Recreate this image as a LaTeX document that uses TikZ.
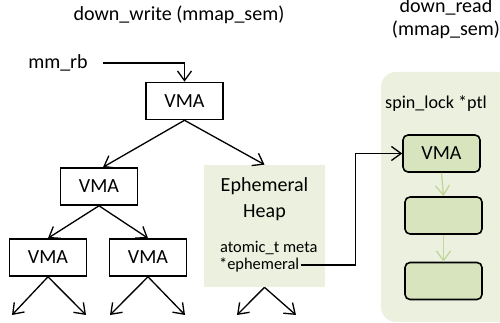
\documentclass[tikz,border=0pt]{standalone}
\usepackage{fontspec}
\setmainfont{Carlito}
\usepackage{tikz}
\usetikzlibrary{arrows.meta}
\usetikzlibrary{positioning}

\definecolor{panelgreen}{HTML}{EBF1DE}
\definecolor{boxgreen}{HTML}{D7E4BD}
\definecolor{arrowgreen}{HTML}{C3D69B}

\begin{document}
\begin{tikzpicture}[x=0.02cm, y=-0.02cm,
        >={Straight Barb[length=5.5pt,width=8pt]},
        every node/.style={font=\fontsize{11.4}{13.1}\selectfont},
        vma/.style={draw, line width=0.9pt, minimum width=1.54cm, minimum height=0.74cm, inner sep=0pt},
        vmalist/.style={vma, rounded corners=0.1cm, fill=boxgreen},
        link/.style={->, line width=0.75pt}]
        \useasboundingbox (0,0) rectangle (500,323);

        % Right panel
        \fill[panelgreen, rounded corners=0.3cm] (381,72) rectangle (530,322);

        % Titles
        \node (wtitle) at (179,15) {down\_write (mmap\_sem)};
        \node[align=center] (rtitle) at (446,19) {down\_read\\(mmap\_sem)};

        % Tree
        \node (mmrb) at (58,63) {mm\_rb};
        \node[vma] (vma0) at (184.5,101) {VMA};
        \node[vma] (vma1) at (99,186.5) {VMA};
        \node[vma] (vma3) at (48,257.5) {VMA};
        \node[vma] (vma4) at (148,257.5) {VMA};

        % Ephemeral heap
        \node[fill=panelgreen, minimum width=2.42cm, minimum height=2.44cm] (heap) at (264.5,226) {};
        \node[align=center, font=\fontsize{11.4}{14.8}\selectfont] (heaptitle) at (264.5,199) {Ephemeral\\Heap};
        \node[anchor=west, font=\fontsize{9.35}{11}\selectfont, inner sep=1pt] (meta) at (218,248) {atomic\_t meta};
        \node[anchor=west, font=\fontsize{9.35}{11}\selectfont, inner sep=1pt] (ephptr) at (217,265) {*ephemeral};

        % Per-table list
        \node[font=\fontsize{10.3}{12}\selectfont] (ptl) at (436,104) {spin\_lock *ptl};
        \node[vmalist] (vmal1) at (441.5,153.5) {VMA};
        \node[vmalist] (vmal2) at (443.5,215.5) {};
        \node[vmalist] (vmal3) at (443.5,281) {};

        % Leaves
        \coordinate (leaf1) at (12,315);
        \coordinate (leaf2) at (86,315);
        \coordinate (leaf3) at (110,315);
        \coordinate (leaf4) at (185,315);
        \coordinate (leaf5) at (237,315);
        \coordinate (leaf6) at (296,315);

        % Links
        \draw[link] ([xshift=0.19cm]mmrb.east) -| (vma0.north);
        \draw[link] (vma0.south) -- ([xshift=0.08cm]vma1.north);
        \draw[link] (vma0.south) -- (heap.north);
        \draw[link] (vma1.south) -- (vma3.north);
        \draw[link] (vma1.south) -- (vma4.north);
        \draw[link] (vma3.south) -- (leaf1);
        \draw[link] (vma3.south) -- (leaf2);
        \draw[link] (vma4.south) -- (leaf3);
        \draw[link] (vma4.south) -- (leaf4);
        \draw[link] (heap.south) -- (leaf5);
        \draw[link] (heap.south) -- (leaf6);
        \draw[link] (ephptr.east) -- ++(54,0) |- (vmal1.west);
        \draw[link, arrowgreen] (vmal1.south) -- (vmal2.north);
        \draw[link, arrowgreen] (vmal2.south) -- (vmal3.north);
    \end{tikzpicture}
\end{document}
